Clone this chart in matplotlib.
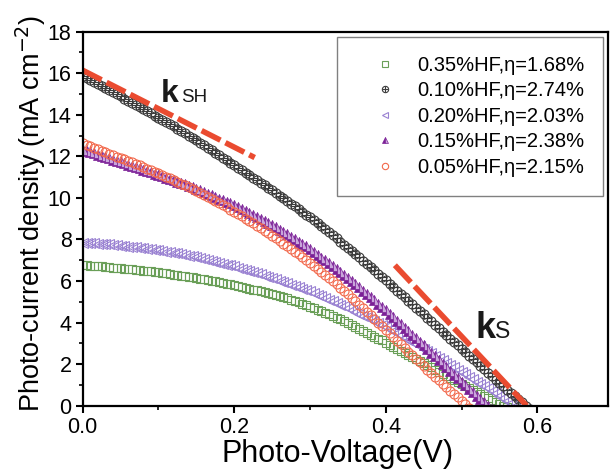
import matplotlib
matplotlib.use("Agg")
import matplotlib.pyplot as plt
import numpy as np

plt.rcParams['font.family'] = ['Liberation Sans', 'DejaVu Sans']

# photo-current density (mA cm-2), sampled every 5 mV from 0 V
step = 0.005
j_035 = [6.76, 6.75, 6.74, 6.73, 6.71, 6.70, 6.68, 6.67, 6.65, 6.64,
         6.62, 6.60, 6.58, 6.56, 6.54, 6.52, 6.50, 6.48, 6.46, 6.44,
         6.42, 6.40, 6.37, 6.34, 6.31, 6.29, 6.26, 6.23, 6.20, 6.18,
         6.15, 6.12, 6.08, 6.05, 6.01, 5.98, 5.94, 5.91, 5.87, 5.84,
         5.80, 5.76, 5.72, 5.68, 5.63, 5.59, 5.55, 5.51, 5.46, 5.42,
         5.38, 5.33, 5.27, 5.22, 5.16, 5.10, 5.04, 4.98, 4.91, 4.84,
         4.77, 4.70, 4.62, 4.55, 4.47, 4.39, 4.31, 4.23, 4.15, 4.07,
         3.98, 3.89, 3.80, 3.71, 3.61, 3.52, 3.42, 3.33, 3.23, 3.14,
         3.04, 2.94, 2.84, 2.74, 2.64, 2.54, 2.44, 2.34, 2.24, 2.14,
         2.04, 1.94, 1.84, 1.74, 1.64, 1.54, 1.44, 1.34, 1.24, 1.14,
         1.04, 0.95, 0.85, 0.76, 0.66, 0.57, 0.47, 0.38, 0.28, 0.19,
         0.10, 0.01, -0.08]
j_010 = [15.85, 15.75, 15.66, 15.56, 15.47, 15.37, 15.28, 15.18, 15.08, 14.98,
         14.88, 14.78, 14.68, 14.58, 14.48, 14.38, 14.28, 14.17, 14.07, 13.96,
         13.86, 13.75, 13.65, 13.54, 13.44, 13.33, 13.22, 13.11, 13.0, 12.89,
         12.77, 12.65, 12.54, 12.42, 12.3, 12.18, 12.06, 11.94, 11.82, 11.7,
         11.58, 11.46, 11.34, 11.22, 11.1, 10.98, 10.86, 10.73, 10.61, 10.48,
         10.36, 10.23, 10.11, 9.98, 9.85, 9.72, 9.59, 9.46, 9.33, 9.19,
         9.06, 8.92, 8.78, 8.63, 8.49, 8.34, 8.2, 8.05, 7.9, 7.75,
         7.6, 7.45, 7.29, 7.14, 6.98, 6.82, 6.67, 6.51, 6.35, 6.19,
         6.03, 5.87, 5.71, 5.54, 5.38, 5.21, 5.05, 4.88, 4.72, 4.55,
         4.39, 4.22, 4.06, 3.89, 3.73, 3.56, 3.4, 3.23, 3.07, 2.9,
         2.74, 2.57, 2.41, 2.24, 2.08, 1.91, 1.75, 1.58, 1.42, 1.26,
         1.1, 0.94, 0.78, 0.62, 0.47, 0.31, 0.16, 0.01, -0.14]
j_020 = [7.85, 7.84, 7.83, 7.82, 7.80, 7.79, 7.77, 7.76, 7.74, 7.72,
         7.70, 7.68, 7.66, 7.64, 7.62, 7.60, 7.57, 7.55, 7.53, 7.51,
         7.48, 7.45, 7.42, 7.39, 7.36, 7.33, 7.29, 7.26, 7.22, 7.19,
         7.15, 7.11, 7.06, 7.02, 6.97, 6.93, 6.88, 6.84, 6.79, 6.75,
         6.70, 6.65, 6.59, 6.54, 6.48, 6.43, 6.37, 6.32, 6.26, 6.21,
         6.15, 6.09, 6.02, 5.96, 5.89, 5.83, 5.76, 5.70, 5.63, 5.57,
         5.50, 5.42, 5.34, 5.26, 5.18, 5.10, 5.02, 4.94, 4.86, 4.78,
         4.70, 4.61, 4.52, 4.43, 4.34, 4.25, 4.16, 4.07, 3.98, 3.89,
         3.80, 3.70, 3.59, 3.49, 3.38, 3.28, 3.17, 3.07, 2.96, 2.86,
         2.75, 2.64, 2.52, 2.41, 2.30, 2.18, 2.07, 1.96, 1.85, 1.74,
         1.62, 1.51, 1.39, 1.28, 1.16, 1.05, 0.94, 0.83, 0.71, 0.60,
         0.48, 0.36, 0.24, 0.12, 0.0]
j_015 = [12.30, 12.25, 12.19, 12.14, 12.08, 12.02, 11.96, 11.90, 11.84, 11.78,
         11.72, 11.66, 11.60, 11.54, 11.48, 11.42, 11.36, 11.30, 11.23, 11.17,
         11.10, 11.04, 10.97, 10.91, 10.84, 10.78, 10.71, 10.65, 10.58, 10.52,
         10.45, 10.37, 10.29, 10.21, 10.13, 10.05, 9.97, 9.89, 9.81, 9.73,
         9.65, 9.56, 9.46, 9.37, 9.27, 9.18, 9.08, 8.99, 8.89, 8.80,
         8.70, 8.59, 8.47, 8.36, 8.24, 8.13, 8.01, 7.90, 7.78, 7.67,
         7.55, 7.41, 7.27, 7.13, 6.99, 6.85, 6.71, 6.57, 6.43, 6.29,
         6.15, 6.00, 5.84, 5.69, 5.53, 5.38, 5.22, 5.07, 4.91, 4.76,
         4.60, 4.43, 4.26, 4.09, 3.92, 3.75, 3.58, 3.41, 3.24, 3.07,
         2.90, 2.73, 2.55, 2.38, 2.20, 2.03, 1.85, 1.68, 1.50, 1.33,
         1.15, 0.99, 0.82, 0.66, 0.49, 0.33, 0.16, 0.0, -0.17]
j_005 = [12.62, 12.55, 12.48, 12.41, 12.34, 12.27, 12.20, 12.13, 12.06, 11.99,
         11.92, 11.85, 11.78, 11.71, 11.63, 11.56, 11.48, 11.41, 11.33, 11.26,
         11.18, 11.10, 11.02, 10.94, 10.86, 10.78, 10.69, 10.61, 10.52, 10.43,
         10.34, 10.25, 10.15, 10.05, 9.95, 9.85, 9.75, 9.65, 9.54, 9.44,
         9.33, 9.22, 9.11, 9.00, 8.89, 8.78, 8.66, 8.54, 8.42, 8.30,
         8.18, 8.06, 7.93, 7.80, 7.67, 7.54, 7.41, 7.28, 7.14, 7.00,
         6.86, 6.72, 6.58, 6.44, 6.29, 6.14, 5.99, 5.84, 5.68, 5.52,
         5.36, 5.20, 5.03, 4.86, 4.69, 4.52, 4.35, 4.18, 4.00, 3.83,
         3.65, 3.48, 3.30, 3.13, 2.95, 2.78, 2.60, 2.43, 2.25, 2.08,
         1.90, 1.73, 1.56, 1.39, 1.22, 1.06, 0.89, 0.73, 0.56, 0.40,
         0.23, 0.07, -0.10]

labels = ['0.35%HF,\u03b7=1.68%', '0.10%HF,\u03b7=2.74%', '0.20%HF,\u03b7=2.03%',
          '0.15%HF,\u03b7=2.38%', '0.05%HF,\u03b7=2.15%']

# tangent guide lines (V, J)
ksh_v = [0.0, 0.227]
ksh_j = [16.14, 11.94]
ks_v = [0.412, 0.586]
ks_j = [6.76, 0.0]

def volts(j):
    return np.arange(len(j)) * step

fig = plt.figure(figsize=(6.11, 4.71), dpi=100)
ax = fig.add_axes([0.1354, 0.1386, 0.8605, 0.7943])

green, gray, lav, purple, orange = '#6a9f58', '#3c3c3c', '#9a82d2', '#7b1f96', '#f2694c'

h_g, = ax.plot(volts(j_035), j_035, ls='none', marker='s', ms=5.5, mfc='none',
               mec=green, mew=0.8)
h_l, = ax.plot(volts(j_020), j_020, ls='none', marker='<', ms=6.5, mfc='none',
               mec=lav, mew=0.8)
h_b1, = ax.plot(volts(j_010), j_010, ls='none', marker='o', ms=6.5, mfc='none',
                mec=gray, mew=0.8)
h_b2, = ax.plot(volts(j_010), j_010, ls='none', marker='+', ms=6.5,
                mec=gray, mew=0.8)
h_p, = ax.plot(volts(j_015), j_015, ls='none', marker='^', ms=6.5, mfc=purple,
               fillstyle='left', markerfacecoloralt='#c9a6db', mec=purple, mew=0.5)
h_o, = ax.plot(volts(j_005), j_005, ls='none', marker='o', ms=6.5, mfc='none',
               mec=orange, mew=0.8)

red = '#ea4b30'
ax.plot(ksh_v, ksh_j, color=red, lw=4, dashes=(3.8, 1.0), solid_capstyle='butt')
ax.plot(ks_v, ks_j, color=red, lw=4, dashes=(4.2, 1.0), solid_capstyle='butt')

ax.text(0.103, 14.6, 'k', fontsize=23, fontweight='bold', color='#1a1a1a')
ax.text(0.130, 14.6, 'SH', fontsize=13.5, color='#1a1a1a')
ax.text(0.518, 3.26, 'k', fontsize=26, fontweight='bold', color='#1a1a1a')
ax.text(0.544, 3.26, 'S', fontsize=16.5, color='#1a1a1a')

ax.set_xlim(0, 0.694)
ax.set_ylim(0, 18)
ax.set_xticks([0.0, 0.2, 0.4, 0.6])
ax.set_xticklabels(['0.0', '0.2', '0.4', '0.6'])
ax.set_xticks([0.1, 0.3, 0.5], minor=True)
ax.set_yticks(range(0, 19, 2))
ax.set_yticks(range(1, 18, 2), minor=True)
ax.tick_params(which='major', direction='out', length=5, width=1.5, labelsize=15.5,
               top=False, right=False, pad=3)
ax.tick_params(which='minor', direction='out', length=3, width=1.2,
               top=False, right=False)
for s in ax.spines.values():
    s.set_linewidth(1.6)

ax.set_xlabel('Photo-Voltage(V)', fontsize=22)
ax.set_ylabel('Photo-current density (mA cm$^{-2}$)', fontsize=19.5)
ax.xaxis.set_label_coords(0.4846, -0.088)
ax.yaxis.set_label_coords(-0.066, 0.515)

leg = ax.legend([h_g, (h_b1, h_b2), h_l, h_p, h_o], labels, loc='upper right',
                bbox_to_anchor=(0.99, 0.986), fontsize=14.5, numpoints=1,
                markerscale=0.7, handlelength=2.8, handletextpad=0.2,
                borderpad=0.95, labelspacing=0.32, fancybox=False,
                edgecolor='#808080', framealpha=1, borderaxespad=0)
leg.get_frame().set_linewidth(1.0)

fig.savefig('out.png', dpi=100)
